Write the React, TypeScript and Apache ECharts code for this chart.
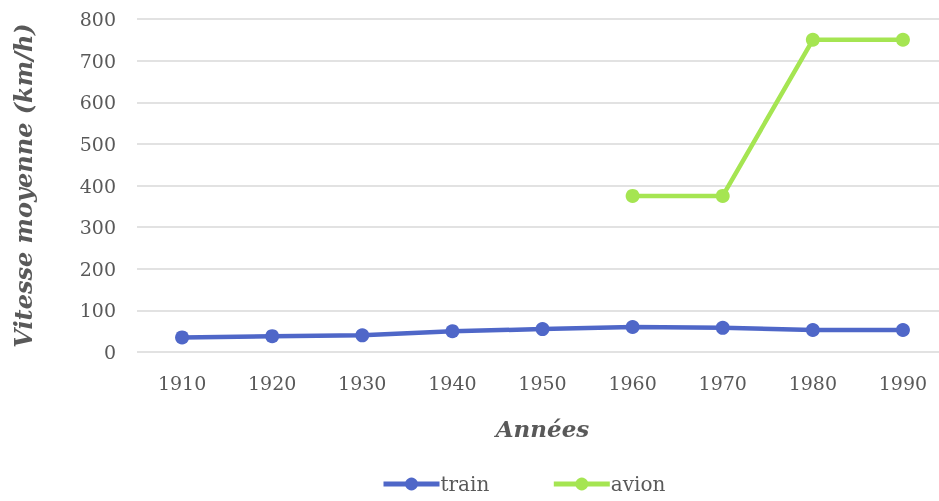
import React, { useEffect, useRef } from "react";
import * as echarts from "echarts";

const years = ["1910", "1920", "1930", "1940", "1950", "1960", "1970", "1980", "1990"];
const train = [35, 38, 40, 50, 55, 60, 58, 53, 53];
const avion = [null, null, null, null, null, 375, 375, 750, 750];

const FONT = "DejaVu Serif";
const GREY = "#595959";

export default function App() {
  const ref = useRef<HTMLDivElement>(null);
  useEffect(() => {
    const chart = echarts.init(ref.current!, null, { renderer: "svg" });
    chart.setOption({
      animation: false,
      grid: { left: 137, right: 12, top: 19, bottom: 149, containLabel: false },
      xAxis: {
        type: "category",
        data: years,
        boundaryGap: true,
        axisLine: { show: false },
        axisTick: { show: false },
        axisLabel: { color: GREY, fontFamily: FONT, fontSize: 19, margin: 21 },
        name: "Années",
        nameLocation: "middle",
        nameGap: 65,
        nameTextStyle: { color: GREY, fontFamily: FONT, fontSize: 23, fontWeight: "bold", fontStyle: "italic" },
      },
      yAxis: {
        type: "value",
        min: 0,
        max: 800,
        interval: 100,
        axisLine: { show: false },
        axisTick: { show: false },
        splitLine: { lineStyle: { color: "#D9D9D9", width: 1.5 } },
        axisLabel: { color: GREY, fontFamily: FONT, fontSize: 19, margin: 21 },
        name: "Vitesse moyenne (km/h)",
        nameLocation: "middle",
        nameGap: 102,
        nameTextStyle: { color: GREY, fontFamily: FONT, fontSize: 24, fontWeight: "bold", fontStyle: "italic" },
      },
      legend: {
        bottom: 2,
        left: 376,
        itemWidth: 56,
        itemHeight: 16,
        itemGap: 62,
        lineStyle: { width: 5 },
        textStyle: { color: GREY, fontFamily: FONT, fontSize: 20, padding: [0, 0, 0, -4] },
        data: ["train", "avion"],
      },
      series: [
        {
          name: "train",
          type: "line",
          data: train,
          symbol: "circle",
          symbolSize: 14,
          lineStyle: { color: "#4F67C8", width: 4.5 },
          itemStyle: { color: "#4F67C8" },
        },
        {
          name: "avion",
          type: "line",
          data: avion,
          symbol: "circle",
          symbolSize: 14,
          lineStyle: { color: "#A5E552", width: 4.5 },
          itemStyle: { color: "#A5E552" },
        },
      ],
    });
    return () => chart.dispose();
  }, []);
  return (
    <div style={{ position: "fixed", left: 0, top: 0, width: 939, height: 501, overflow: "hidden" }}>
      <div ref={ref} style={{ width: 960, height: 501 }} />
    </div>
  );
}
